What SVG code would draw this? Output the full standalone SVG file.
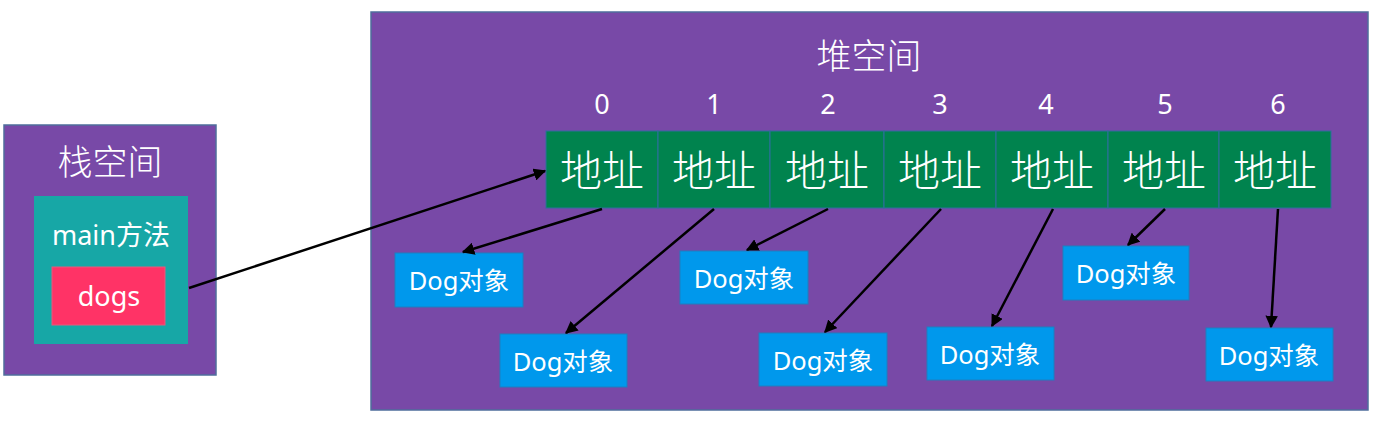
<svg xmlns="http://www.w3.org/2000/svg" width="1384" height="421" viewBox="0 0 1384 421">
<style>
.bg{fill:#7849A7;stroke:#4F6E9C;stroke-width:1.5}
.cell{fill:#00834E;stroke:#2E6E9E;stroke-width:1}
.dog{fill:#0098EC;stroke:#1E7FC0;stroke-width:1}
.t{fill:#fff;font-family:"Noto Sans","Noto Sans CJK SC",sans-serif;text-anchor:middle}
.cjk{fill:#fff;font-family:"Noto Sans CJK SC",sans-serif;text-anchor:middle}
.ln{stroke:#000;stroke-width:2.5;fill:none;marker-end:url(#ah)}
</style>
<defs>
<marker id="ah" viewBox="0 0 10 10" refX="9" refY="5" markerWidth="5" markerHeight="5" orient="auto" markerUnits="strokeWidth">
<path d="M0,0 L10,5 L0,10 z" fill="#000"/>
</marker>
</defs>
<rect width="1384" height="421" fill="#fff"/>
<g id="stack">
<rect class="bg" x="4" y="125" width="212" height="250"/>
<text class="cjk" x="110" y="175" font-size="35" font-weight="300">栈空间</text>
<g id="main">
<rect x="34" y="196" width="154" height="148" fill="#17A7A6"/>
<text class="t" x="111" y="245" font-size="27">main方法</text>
</g>
<g id="dogs">
<rect x="52" y="267" width="113" height="58" fill="#FF3366" stroke="#E85A7A" stroke-width="1"/>
<text class="t" x="109" y="306" font-size="27">dogs</text>
</g>
</g>
<g id="heap">
<rect class="bg" x="371" y="12" width="997" height="398"/>
<text class="cjk" x="869" y="69" font-size="35" font-weight="300">堆空间</text>
</g>
<g id="indices">
<text class="t" x="602" y="114" font-size="27">0</text>
<text class="t" x="714" y="114" font-size="27">1</text>
<text class="t" x="828" y="114" font-size="27">2</text>
<text class="t" x="940" y="114" font-size="27">3</text>
<text class="t" x="1046" y="114" font-size="27">4</text>
<text class="t" x="1165" y="114" font-size="27">5</text>
<text class="t" x="1278" y="114" font-size="27">6</text>
</g>
<g id="cell0"><rect class="cell" x="546" y="131" width="112" height="77"/><text class="cjk" x="602" y="186" font-size="42" font-weight="300">地址</text></g>
<g id="cell1"><rect class="cell" x="658" y="131" width="112" height="77"/><text class="cjk" x="714" y="186" font-size="42" font-weight="300">地址</text></g>
<g id="cell2"><rect class="cell" x="770" y="131" width="114" height="77"/><text class="cjk" x="827" y="186" font-size="42" font-weight="300">地址</text></g>
<g id="cell3"><rect class="cell" x="884" y="131" width="112" height="77"/><text class="cjk" x="940" y="186" font-size="42" font-weight="300">地址</text></g>
<g id="cell4"><rect class="cell" x="996" y="131" width="112" height="77"/><text class="cjk" x="1052" y="186" font-size="42" font-weight="300">地址</text></g>
<g id="cell5"><rect class="cell" x="1108" y="131" width="111" height="77"/><text class="cjk" x="1164" y="186" font-size="42" font-weight="300">地址</text></g>
<g id="cell6"><rect class="cell" x="1219" y="131" width="112" height="77"/><text class="cjk" x="1275" y="186" font-size="42" font-weight="300">地址</text></g>
<g id="dog0"><rect class="dog" x="395" y="253" width="128" height="54"/><text class="t" x="459" y="290" font-size="25.5">Dog对象</text></g>
<g id="dog1"><rect class="dog" x="500" y="334" width="127" height="53"/><text class="t" x="563" y="371" font-size="25.5">Dog对象</text></g>
<g id="dog2"><rect class="dog" x="680" y="251" width="128" height="53"/><text class="t" x="744" y="288" font-size="25.5">Dog对象</text></g>
<g id="dog3"><rect class="dog" x="759" y="333" width="128" height="53"/><text class="t" x="823" y="370" font-size="25.5">Dog对象</text></g>
<g id="dog4"><rect class="dog" x="927" y="327" width="127" height="53"/><text class="t" x="990" y="364" font-size="25.5">Dog对象</text></g>
<g id="dog5"><rect class="dog" x="1063" y="246" width="126" height="54"/><text class="t" x="1126" y="283" font-size="25.5">Dog对象</text></g>
<g id="dog6"><rect class="dog" x="1206" y="328" width="127" height="53"/><text class="t" x="1269" y="365" font-size="25.5">Dog对象</text></g>
<g id="connectors">
<line class="ln" x1="189" y1="288" x2="545" y2="171"/>
<line class="ln" x1="602" y1="209" x2="463" y2="252"/>
<line class="ln" x1="714" y1="209" x2="566" y2="333"/>
<line class="ln" x1="828" y1="209" x2="747" y2="250"/>
<line class="ln" x1="941" y1="209" x2="825" y2="332"/>
<line class="ln" x1="1053" y1="209" x2="992" y2="326"/>
<line class="ln" x1="1165" y1="209" x2="1128" y2="245"/>
<line class="ln" x1="1278" y1="209" x2="1271" y2="327"/>
</g>
</svg>
